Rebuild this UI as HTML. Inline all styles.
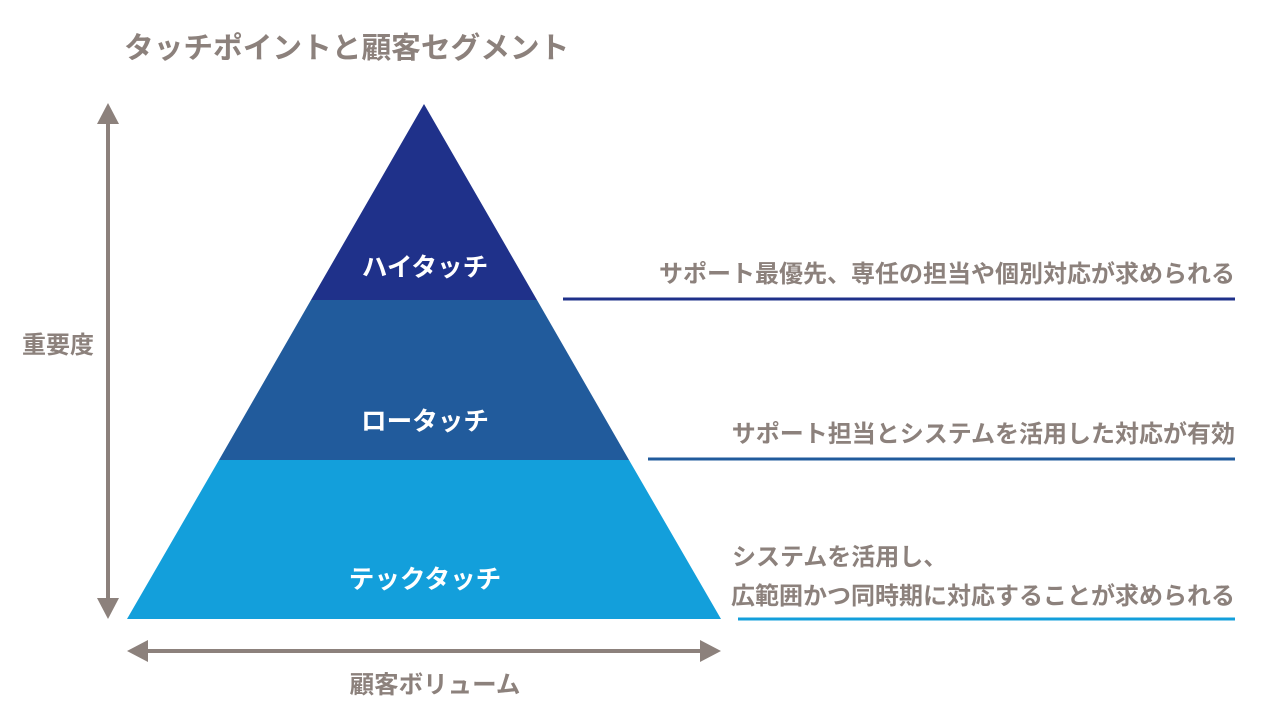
<!DOCTYPE html>
<html><head><meta charset="utf-8"><style>
html,body{margin:0;padding:0;background:#fff;}
svg{display:block;}
text{font-family:"Liberation Sans","Noto Sans CJK JP",sans-serif;font-weight:bold;}
</style></head><body>
<svg width="1280" height="720" viewBox="0 0 1280 720" xmlns="http://www.w3.org/2000/svg">
<text x="124" y="58" font-size="29.7" fill="#8c817c">タッチポイントと顧客セグメント</text>
<polygon points="424,104 537,300 311,300" fill="#1f318a"/>
<polygon points="311,300 537,300 629,460 219,460" fill="#215b9c"/>
<polygon points="219,460 629,460 721,619 127,619" fill="#139fdb"/>
<text x="425" y="276" font-size="25.6" fill="#fff" text-anchor="middle">ハイタッチ</text>
<text x="425" y="430" font-size="25.6" fill="#fff" text-anchor="middle">ロータッチ</text>
<text x="425" y="588" font-size="25.6" fill="#fff" text-anchor="middle">テックタッチ</text>
<line x1="108" y1="120" x2="108" y2="602" stroke="#8c817c" stroke-width="4"/>
<polygon points="108,103 97,124 119,124" fill="#8c817c"/>
<polygon points="108,619 97,598 119,598" fill="#8c817c"/>
<text x="58" y="353" font-size="24" fill="#8c817c" text-anchor="middle">重要度</text>
<line x1="145" y1="651" x2="703" y2="651" stroke="#8c817c" stroke-width="4"/>
<polygon points="127,651 148,640 148,662" fill="#8c817c"/>
<polygon points="721,651 700,640 700,662" fill="#8c817c"/>
<text x="435" y="693" font-size="24.5" fill="#8c817c" text-anchor="middle">顧客ボリューム</text>
<text x="1235" y="282" font-size="24" fill="#8c817c" text-anchor="end">サポート最優先、専任の担当や個別対応が求められる</text>
<line x1="563" y1="299" x2="1235" y2="299" stroke="#1f318a" stroke-width="3"/>
<text x="1235" y="442" font-size="24" fill="#8c817c" text-anchor="end">サポート担当とシステムを活用した対応が有効</text>
<line x1="648" y1="459" x2="1235" y2="459" stroke="#215b9c" stroke-width="3"/>
<text x="732" y="565" font-size="24" fill="#8c817c">システムを活用し、</text>
<text x="1235" y="604" font-size="24" fill="#8c817c" text-anchor="end">広範囲かつ同時期に対応することが求められる</text>
<line x1="738" y1="619" x2="1235" y2="619" stroke="#139fdb" stroke-width="3"/>
</svg>
</body></html>
